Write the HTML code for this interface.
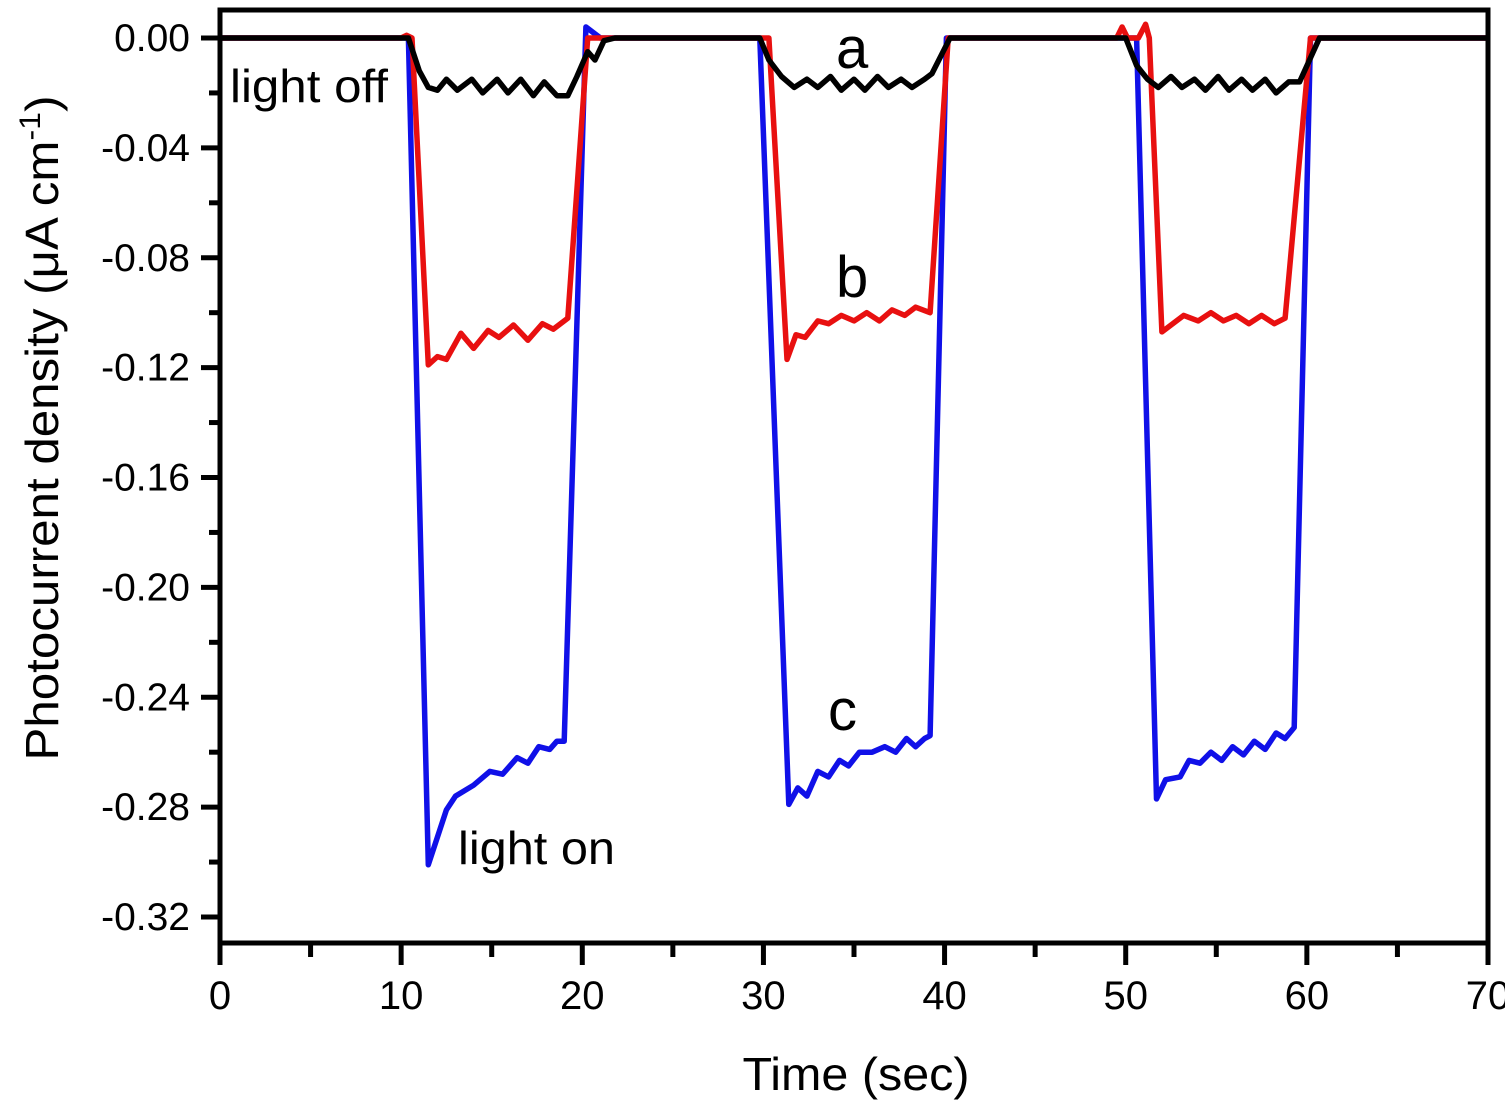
<!DOCTYPE html>
<html><head><meta charset="utf-8"><style>
html,body{margin:0;padding:0;background:#fff;}
svg{display:block;font-family:"Liberation Sans",Arial,sans-serif;}
</style></head><body>
<svg id="chart" width="1505" height="1102" viewBox="0 0 1505 1102" xmlns="http://www.w3.org/2000/svg">
<g id="series"></g>
<g id="axes"></g>
<text x="230" y="102" font-size="46" textLength="158" lengthAdjust="spacingAndGlyphs">light off</text>
<text x="458" y="864" font-size="46" textLength="157" lengthAdjust="spacingAndGlyphs">light on</text>
<text x="836" y="68" font-size="58">a</text>
<text x="836" y="297" font-size="58">b</text>
<text x="828" y="730" font-size="58">c</text>
<text x="856" y="1090" font-size="46" text-anchor="middle" textLength="227" lengthAdjust="spacingAndGlyphs">Time (sec)</text>
<text transform="translate(58,428) rotate(-90)" font-size="46" text-anchor="middle" textLength="665" lengthAdjust="spacingAndGlyphs">Photocurrent density (μA cm<tspan font-size="30" dy="-18">-1</tspan><tspan dy="18">)</tspan></text>
</svg>
<script>
const xTicks=[0,10,20,30,40,50,60,70];
const yTicks=[0,-0.04,-0.08,-0.12,-0.16,-0.20,-0.24,-0.28,-0.32];
const yTickLabels=["0.00","-0.04","-0.08","-0.12","-0.16","-0.20","-0.24","-0.28","-0.32"];
const tA=[0,10.4,11.0,11.5,12.0,12.5,13.1,13.9,14.5,15.3,15.9,16.6,17.3,17.9,18.6,19.2,19.7,20.3,20.7,21.2,21.8,29.8,30.3,31.0,31.7,32.4,33.0,33.7,34.3,35.0,35.6,36.3,36.9,37.6,38.2,38.9,39.3,40.3,50.0,50.6,51.2,51.8,52.5,53.1,53.8,54.4,55.1,55.7,56.4,57.0,57.7,58.3,59.0,59.6,60.7,70];
const vA=[0,0,-0.012,-0.018,-0.019,-0.015,-0.019,-0.015,-0.020,-0.015,-0.020,-0.015,-0.021,-0.016,-0.021,-0.021,-0.014,-0.005,-0.008,-0.001,0,0,-0.008,-0.014,-0.018,-0.015,-0.018,-0.014,-0.019,-0.015,-0.019,-0.014,-0.018,-0.015,-0.018,-0.015,-0.013,0,0,-0.010,-0.015,-0.018,-0.014,-0.018,-0.015,-0.019,-0.014,-0.019,-0.015,-0.019,-0.015,-0.020,-0.016,-0.016,0,0];
const tB=[0,10.0,10.3,10.6,11.5,12.0,12.5,13.3,14.0,14.8,15.4,16.2,17.0,17.8,18.4,19.2,20.3,29.8,30.3,31.3,31.8,32.3,33.0,33.6,34.3,35.0,35.7,36.4,37.1,37.8,38.4,39.2,40.2,49.5,49.8,50.1,50.7,51.1,51.3,52.0,52.6,53.2,54.0,54.7,55.4,56.1,56.8,57.5,58.2,58.8,60.2,70];
const vB=[0,0,0.001,0,-0.119,-0.116,-0.117,-0.1075,-0.113,-0.1065,-0.109,-0.1045,-0.110,-0.104,-0.106,-0.102,0,0,0,-0.117,-0.108,-0.109,-0.103,-0.104,-0.101,-0.103,-0.100,-0.103,-0.099,-0.101,-0.098,-0.100,0,0,0.004,0,0,0.005,0,-0.107,-0.104,-0.101,-0.103,-0.100,-0.103,-0.101,-0.104,-0.101,-0.104,-0.102,0,0];
const tC=[0,10.4,11.5,12.5,13.0,14.0,14.9,15.6,16.4,17.0,17.6,18.2,18.6,19.0,20.2,21.0,29.8,31.4,31.9,32.4,33.0,33.6,34.2,34.7,35.3,36.0,36.7,37.3,37.9,38.4,38.9,39.2,40.1,50.6,51.7,52.2,53.0,53.5,54.1,54.7,55.3,55.9,56.5,57.1,57.7,58.3,58.8,59.3,60.2,70];
const vC=[0,0,-0.301,-0.281,-0.276,-0.272,-0.267,-0.268,-0.262,-0.264,-0.258,-0.259,-0.256,-0.256,0.004,0,0,-0.279,-0.273,-0.276,-0.267,-0.269,-0.263,-0.265,-0.260,-0.260,-0.258,-0.260,-0.255,-0.258,-0.255,-0.254,0,0,-0.277,-0.270,-0.269,-0.263,-0.264,-0.260,-0.263,-0.258,-0.261,-0.256,-0.259,-0.253,-0.255,-0.251,0,0];

const NS="http://www.w3.org/2000/svg";
const X0=220,X1=1488,Y0=38,Y32=917;
function sx(t){return X0+(t-0)*(X1-X0)/70;}
function sy(v){return Y0+(0-v)*(Y32-Y0)/0.32;}
const series=document.getElementById('series');
const axes=document.getElementById('axes');
function mk(tag,attrs,parent){const e=document.createElementNS(NS,tag);for(const k in attrs)e.setAttribute(k,attrs[k]);parent.appendChild(e);return e;}
function drawLine(ts,vs,color,name){
  const d=ts.map((t,i)=>(i?'L':'M')+sx(t).toFixed(1)+' '+sy(vs[i]).toFixed(1)).join(' ');
  const p=mk('path',{d:d,fill:'none',stroke:color,'stroke-width':5.5,'stroke-linejoin':'round'},series);
  
  
}
drawLine(tC,vC,'#1010e8','series-c-line');
drawLine(tB,vB,'#e81010','series-b-line');
drawLine(tA,vA,'#000','series-a-line');

const frame=mk('rect',{x:X0,y:10,width:X1-X0,height:943-10,fill:'none',stroke:'#000','stroke-width':5},axes);


for(let t=0;t<=70;t+=5){
  const major=t%10===0;
  const tk=mk('line',{x1:sx(t),x2:sx(t),y1:943,y2:major?965:957,stroke:'#000','stroke-width':5},axes);
  
  
}
xTicks.forEach(t=>{
  const tx=mk('text',{x:sx(t),y:1009,'font-size':40,'text-anchor':'middle'},axes);
  tx.textContent=String(t);
  
  
});
for(let i=0;i<=16;i++){
  const v=-0.02*i;const major=i%2===0;
  const tk=mk('line',{x1:major?201:209,x2:X0,y1:sy(v),y2:sy(v),stroke:'#000','stroke-width':5},axes);
  
  
}
yTicks.forEach((v,i)=>{
  const tx=mk('text',{x:190,y:sy(v)+13,'font-size':39,'text-anchor':'end'},axes);
  tx.textContent=yTickLabels[i];
  
  
});
</script>
</body></html>
